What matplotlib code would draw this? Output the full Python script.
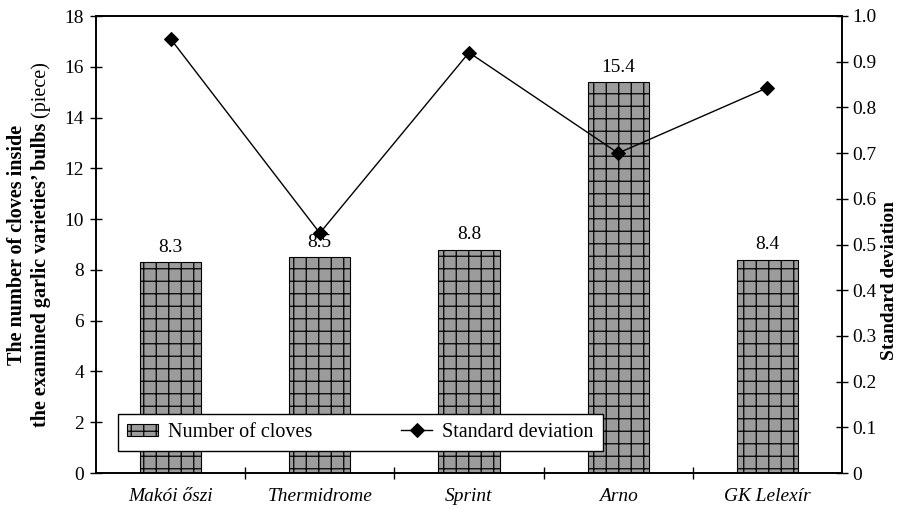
import matplotlib
matplotlib.use("Agg")
import matplotlib.pyplot as plt
import numpy as np

categories = ["Makói őszi", "Thermidrome", "Sprint", "Arno", "GK Lelexír"]
cloves = [8.3, 8.5, 8.8, 15.4, 8.4]
std_dev = [0.95, 0.525, 0.92, 0.70, 0.843]
left_ticks = [0, 2, 4, 6, 8, 10, 12, 14, 16, 18]
right_ticks = [0, 0.1, 0.2, 0.3, 0.4, 0.5, 0.6, 0.7, 0.8, 0.9, 1.0]
right_labels = ["0", "0.1", "0.2", "0.3", "0.4", "0.5", "0.6", "0.7", "0.8", "0.9", "1.0"]

# render at a lower dpi so the hatch grid is coarser; scale point sizes to match
DPI = 75
K = 100 / DPI

plt.rcParams['font.family'] = ['Liberation Serif', 'DejaVu Serif']
plt.rcParams['hatch.linewidth'] = 0.9 * K
plt.rcParams['hatch.color'] = 'black'

W, H = 898, 508
fig = plt.figure(figsize=(W / DPI, H / DPI), dpi=DPI)
ax = fig.add_axes([96 / W, 1 - 473 / H, (842 - 96) / W, (473 - 16) / H])
ax2 = ax.twinx()

x = np.arange(len(categories))
bars = ax.bar(x, cloves, width=0.41, color='#9c9c9c', edgecolor='black',
              hatch='+', linewidth=0.8 * K, label='Number of cloves', zorder=2)
for xi, v in zip(x, cloves):
    ax.text(xi, v + 0.25, f"{v}", ha='center', va='bottom', fontsize=14 * K)

line, = ax2.plot(x, std_dev, color='black', lw=1.0 * K, marker='D', markersize=7 * K,
                 label='Standard deviation', zorder=3)

ax.set_xlim(-0.5, len(categories) - 0.5)
ax.set_ylim(0, 18)
ax2.set_ylim(0, 1.0)
ax.set_yticks(left_ticks)
ax.set_yticklabels([str(t) for t in left_ticks], fontsize=14 * K)
ax2.set_yticks(right_ticks)
ax2.set_yticklabels(right_labels, fontsize=14 * K)

ax.set_xticks(np.arange(0.5, len(categories) - 0.5, 1.0))
ax.set_xticklabels([])
ax.set_xticks(x, minor=True)
ax.set_xticklabels(categories, minor=True, fontsize=14 * K, style='italic')
ax.tick_params(axis='x', which='minor', length=0, pad=11 * K)
ax.tick_params(axis='x', which='major', direction='inout', length=9 * K, width=1 * K)
ax.tick_params(axis='y', direction='inout', length=9 * K, width=1 * K, pad=4 * K)
ax2.tick_params(axis='y', direction='inout', length=9 * K, width=1 * K, pad=3 * K)

for a in (ax, ax2):
    for s in a.spines.values():
        s.set_linewidth(1.2 * K)
        s.set_color('black')

fig.canvas.draw()
r = fig.canvas.get_renderer()

# left y label: two lines centred on the axes' vertical centre
yc = 1 - 244.5 / H
fig.text(17 / W, yc, "The number of cloves inside", rotation=90,
         ha='center', va='center', fontsize=14.5 * K, fontweight='bold')
pa = fig.text(0, 0, "the examined garlic varieties’ bulbs", rotation=90,
              ha='center', va='bottom', fontsize=14.5 * K, fontweight='bold')
pb = fig.text(0, 0, " (piece)", rotation=90,
              ha='center', va='bottom', fontsize=14.5 * K)
ha_ = pa.get_window_extent(r).height
hb_ = pb.get_window_extent(r).height
y0 = yc * H - (ha_ + hb_) / 2
pa.set_position((41 / W, y0 / H))
pb.set_position((41 / W, (y0 + ha_) / H))

fig.text(889 / W, 1 - 360 / H, "Standard deviation", rotation=90,
         ha='center', va='bottom', fontsize=14 * K, fontweight='bold')

leg = ax2.legend([bars, line], ['Number of cloves', 'Standard deviation'],
                 ncol=2, loc='lower left', bbox_to_anchor=(0.0295, 0.048, 0.65, 0.077),
                 mode='expand', borderaxespad=0, fontsize=14.5 * K, frameon=True,
                 fancybox=False, edgecolor='black', framealpha=1, borderpad=0.45,
                 handlelength=1.55, handleheight=0.55, handletextpad=0.5,
                 columnspacing=2.0)
leg.get_frame().set_linewidth(1.0 * K)

fig.savefig("out.png", dpi=DPI)
